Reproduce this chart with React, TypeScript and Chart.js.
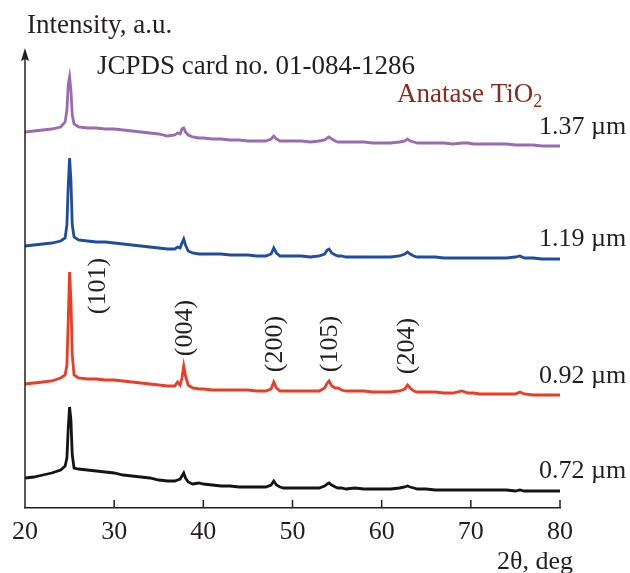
import React, { useEffect, useRef } from "react";
import { Chart, registerables } from "chart.js";

Chart.register(...registerables);

// 2θ positions (deg)
const twoTheta = [
  20, 21, 22, 23, 24, 24.5, 24.7, 24.85, 25.0, 25.15, 25.3, 25.5, 26, 27, 28, 29, 30, 31, 32, 33, 34, 35, 36,
  36.8, 37.1, 37.4, 37.6, 37.8, 38.0, 38.3, 38.8, 39.5, 40, 41, 42, 43, 44, 45, 46, 47, 47.6, 47.9, 48.2, 48.6,
  49, 50, 51, 52, 53, 53.6, 53.9, 54.1, 54.4, 54.8, 55.1, 55.5, 56, 57, 58, 59, 60, 61, 62, 62.6, 62.9, 63.2,
  63.6, 64, 65, 66, 67, 68, 69, 69.7, 70.3, 71, 72, 73, 74, 75, 75.5, 76, 77, 78, 79, 80,
];

// Intensities (a.u., stacked with offsets)
const int072 = [
  30, 31, 33, 35, 38, 42, 50, 80, 101, 88, 53, 40, 39, 38, 37, 36, 35, 33, 32, 31, 30, 28, 27,
  27, 28, 29, 32, 35, 30, 26, 24, 25, 24, 23, 22, 22, 21, 21, 21, 21, 23, 27, 23, 21,
  20, 20, 20, 20, 20, 22, 24, 25, 23, 21, 20, 20, 19, 20, 19, 19, 19, 19, 20, 21, 22, 21,
  20, 19, 19, 18, 18, 18, 18, 18, 18, 18, 18, 18, 18, 17, 18, 17, 17, 17, 17, 17,
];
const int092 = [
  124, 125, 126, 127, 130, 133, 143, 188, 236, 208, 153, 133, 130, 129, 129, 128, 128, 127, 126, 125, 124, 123, 122,
  122, 126, 123, 130, 142, 132, 123, 120, 119, 119, 118, 118, 118, 118, 118, 117, 117, 119, 126, 120, 117,
  117, 117, 117, 117, 117, 120, 125, 127, 122, 120, 120, 118, 117, 117, 117, 116, 116, 116, 117, 119, 123, 120,
  117, 116, 116, 116, 115, 115, 117, 115, 115, 114, 114, 114, 114, 114, 116, 114, 113, 113, 113, 113,
];
const int119 = [
  262, 263, 264, 265, 267, 270, 283, 323, 350, 328, 283, 271, 268, 267, 266, 266, 265, 264, 263, 262, 261, 260, 259,
  259, 261, 260, 265, 269, 263, 257, 255, 254, 254, 254, 254, 253, 253, 253, 252, 252, 254, 260, 255, 252,
  252, 252, 252, 251, 252, 254, 258, 259, 255, 253, 252, 252, 251, 251, 251, 251, 251, 251, 252, 254, 256, 254,
  252, 251, 251, 251, 250, 250, 250, 250, 250, 250, 250, 250, 250, 251, 252, 250, 250, 249, 249, 249,
];
const int137 = [
  376, 377, 378, 379, 381, 386, 398, 423, 431, 418, 393, 384, 381, 380, 380, 379, 379, 378, 377, 376, 375, 374, 372,
  373, 375, 374, 379, 380, 376, 373, 371, 370, 370, 369, 369, 368, 368, 367, 367, 367, 369, 372, 369, 367,
  367, 367, 367, 366, 367, 368, 370, 371, 369, 367, 366, 366, 366, 366, 366, 365, 365, 365, 366, 367, 369, 367,
  366, 365, 365, 365, 365, 364, 365, 365, 364, 364, 364, 364, 364, 363, 363, 363, 363, 362, 362, 362,
];

const seriesLabels = ["0.72 µm", "0.92 µm", "1.19 µm", "1.37 µm"];
const seriesColors = ["#141414", "#ee3b24", "#1f4c9e", "#9a6bb3"];
const seriesData = [int072, int092, int119, int137];
const labelY = [478, 383, 246, 134];

const xTicks = [20, 30, 40, 50, 60, 70, 80];

const hklLabels = ["(101)", "(004)", "(200)", "(105)", "(204)"];
const hklPos = [
  [98, 286],
  [185, 328],
  [275, 344],
  [330, 344],
  [407, 346],
];

const FONT = "'Liberation Serif', 'Times New Roman', serif";
const TEXT = "#231f20";

const decorPlugin = {
  id: "decor",
  afterDraw(chart: any) {
    const { ctx, chartArea, scales } = chart;
    const xs = scales.x;
    ctx.save();
    // y axis with arrow
    ctx.strokeStyle = TEXT;
    ctx.lineWidth = 1.5;
    ctx.beginPath();
    ctx.moveTo(chartArea.left, chartArea.bottom);
    ctx.lineTo(chartArea.left, chartArea.top + 8);
    ctx.stroke();
    ctx.fillStyle = TEXT;
    ctx.beginPath();
    ctx.moveTo(chartArea.left, chartArea.top - 2);
    ctx.lineTo(chartArea.left - 4, chartArea.top + 11);
    ctx.lineTo(chartArea.left, chartArea.top + 9);
    ctx.lineTo(chartArea.left + 4, chartArea.top + 11);
    ctx.closePath();
    ctx.fill();
    // inner ticks on x axis
    ctx.beginPath();
    xTicks.forEach((v) => {
      if (v === xs.min) return;
      const px = xs.getPixelForValue(v);
      ctx.moveTo(px, chartArea.bottom);
      ctx.lineTo(px, chartArea.bottom - 8);
    });
    ctx.stroke();

    ctx.textBaseline = "alphabetic";
    ctx.textAlign = "left";
    ctx.font = `27px ${FONT}`;
    ctx.fillText("Intensity, a.u.", 27, 33);
    ctx.fillText("JCPDS card no. 01-084-1286", 97, 74);
    ctx.font = `26px ${FONT}`;
    ctx.textAlign = "right";
    ctx.fillText("2θ, deg", 573, 569);

    // Anatase TiO2
    ctx.textAlign = "left";
    ctx.fillStyle = "#8c2b1d";
    ctx.font = `27px ${FONT}`;
    ctx.fillText("Anatase TiO", 397, 102);
    const w = ctx.measureText("Anatase TiO").width;
    ctx.font = `18px ${FONT}`;
    ctx.fillText("2", 397 + w, 107);

    // series labels
    ctx.fillStyle = TEXT;
    ctx.font = `26px ${FONT}`;
    seriesLabels.forEach((t, i) => ctx.fillText(t, 539, labelY[i]));

    // hkl labels rotated
    ctx.textAlign = "center";
    ctx.textBaseline = "middle";
    hklLabels.forEach((t, i) => {
      ctx.save();
      ctx.translate(hklPos[i][0], hklPos[i][1]);
      ctx.rotate(-Math.PI / 2);
      ctx.fillText(t, 0, 0);
      ctx.restore();
    });
    ctx.restore();
  },
};

export default function App() {
  const ref = useRef<HTMLCanvasElement>(null);
  useEffect(() => {
    if (!ref.current) return;
    const chart = new Chart(ref.current, {
      type: "line",
      data: {
        datasets: seriesData.map((arr, i) => ({
          label: seriesLabels[i],
          data: arr.map((y, j) => ({ x: twoTheta[j], y })),
          borderColor: seriesColors[i],
          borderWidth: 2.8,
          pointRadius: 0,
          tension: 0,
          fill: false,
        })),
      },
      options: {
        animation: false,
        responsive: false,
        events: [],
        layout: { padding: { left: 25, right: 70, top: 50, bottom: 0 } },
        plugins: { legend: { display: false }, tooltip: { enabled: false } },
        scales: {
          x: {
            type: "linear",
            min: 20,
            max: 80,
            afterFit: (s: any) => {
              s.height = 65;
            },
            grid: { display: false },
            border: { display: true, color: TEXT, width: 1.5 },
            ticks: {
              stepSize: 10,
              maxRotation: 0,
              padding: 1,
              color: TEXT,
              font: { family: FONT, size: 26 },
            },
          },
          y: { type: "linear", display: false, min: 0, max: 458 },
        },
      },
      plugins: [decorPlugin],
    } as any);
    return () => chart.destroy();
  }, []);
  return (
    <div style={{ position: "fixed", left: 0, top: 0, width: 630, height: 573, background: "#fff" }}>
      <canvas ref={ref} width={630} height={573} style={{ display: "block" }} />
    </div>
  );
}
